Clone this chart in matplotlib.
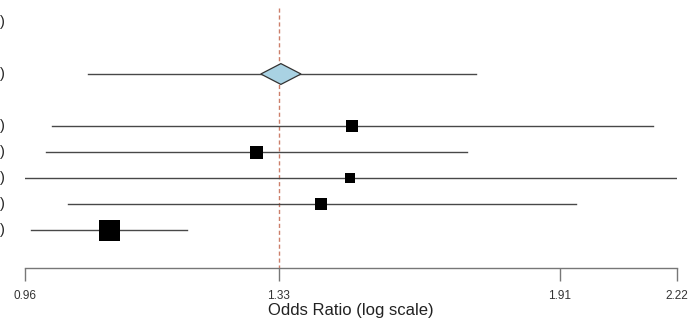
"""Forest plot of study odds ratios with pooled estimate (log scale)."""

import matplotlib
matplotlib.use('Agg')
import matplotlib.pyplot as plt
import numpy as np

plt.rcParams.update({'font.family': ['Liberation Sans', 'DejaVu Sans']})

# study rows, top to bottom
study_or = [1.462, 1.292, 1.458, 1.405, 1.070]
study_lo = [0.994, 0.986, 0.955, 1.015, 0.967]
study_hi = [2.152, 1.695, 2.240, 1.950, 1.182]
study_size = [12, 13, 10, 12, 21]  # square side, px
study_rows = [4, 5, 6, 7, 8]

# pooled estimate: diamond (CI) and line (prediction interval)
pooled_or = 1.334
pooled_ci = [1.300, 1.369]
pooled_pi = [1.041, 1.714]
pooled_row = 2

ref_value = 1.33
xticks = [0.96, 1.33, 1.91, 2.22]
xtick_labels = ['0.96', '1.33', '1.91', '2.22']

# only the closing brackets of the left-hand label column are visible
left_labels = [')', ')', ')', ')', ')', ')', ')']
left_rows = [0, 2, 4, 5, 6, 7, 8]

W, H = 689, 322
fig = plt.figure(figsize=(W / 100, H / 100), dpi=100)
ax = fig.add_axes([25 / W, (H - 268) / H, (677 - 25) / W, 268 / H])
ax.set_xscale('log')
ax.set_xlim(0.96, 2.22)
ax.set_ylim(9.46, -0.846)

line_col = '#484848'
for o, lo, hi, s, r in zip(study_or, study_lo, study_hi, study_size, study_rows):
    ax.plot([lo, hi], [r, r], color=line_col, lw=1.0, clip_on=True, zorder=2)
    ax.scatter([o], [r], marker='s', s=(s * 0.72) ** 2, color='black',
               linewidths=0, zorder=3)

ax.plot(pooled_pi, [pooled_row, pooled_row], color=line_col, lw=1.0, zorder=2)
ax.fill([pooled_ci[0], pooled_or, pooled_ci[1], pooled_or],
        [pooled_row, pooled_row - 0.4, pooled_row, pooled_row + 0.4],
        facecolor='#a9d2e3', edgecolor='#333333', lw=0.9, zorder=3)

ax.plot([ref_value, ref_value], [-0.55, 9.46], color='#cc7f6a', lw=1.0,
        ls=(0, (3, 2)), zorder=1)

for spine in ['top', 'left', 'right']:
    ax.spines[spine].set_visible(False)
ax.spines['bottom'].set_color('#777777')
ax.spines['bottom'].set_linewidth(1.0)
ax.set_yticks([])
ax.set_xticks(xticks)
ax.set_xticklabels(xtick_labels)
ax.xaxis.set_minor_locator(matplotlib.ticker.NullLocator())
ax.tick_params(axis='x', direction='out', length=9.5, width=1.0, color='#777777',
               labelsize=8.5, labelcolor='#333333', pad=6)
ax.set_xlabel('Odds Ratio (log scale)', fontsize=12, color='#222222', labelpad=1)

for txt, r in zip(left_labels, left_rows):
    y_px = 22 + 26 * r
    fig.text(0 / W, 1 - y_px / H, txt, ha='left', va='center', fontsize=10.5,
             color='#222222')

fig.savefig('out.png', dpi=100)
